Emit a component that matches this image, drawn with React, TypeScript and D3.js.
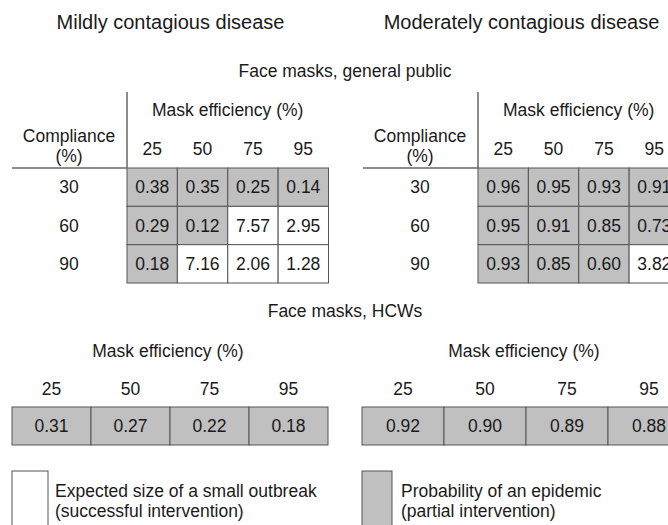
import * as React from 'react'
import * as d3 from 'd3'

// mask efficiency (%) columns, compliance (%) rows
const efficiency = ['25', '50', '75', '95'];
const compliance = ['30', '60', '90'];

// general public, mildly contagious
const mildValues = [
    [0.38, 0.35, 0.25, 0.14],
    [0.29, 0.12, 7.57, 2.95],
    [0.18, 7.16, 2.06, 1.28],
];
// 'p' = probability of an epidemic (grey), 'o' = expected size of small outbreak (white)
const mildKinds = [
    ['p', 'p', 'p', 'p'],
    ['p', 'p', 'o', 'o'],
    ['p', 'o', 'o', 'o'],
];

// general public, moderately contagious
const modValues = [
    [0.96, 0.95, 0.93, 0.91],
    [0.95, 0.91, 0.85, 0.73],
    [0.93, 0.85, 0.60, 3.82],
];
const modKinds = [
    ['p', 'p', 'p', 'p'],
    ['p', 'p', 'p', 'p'],
    ['p', 'p', 'p', 'o'],
];

// HCWs
const hcwMild = [0.31, 0.27, 0.22, 0.18];
const hcwMod = [0.92, 0.90, 0.89, 0.88];

const width = 668;
const height = 525;
const font = '"Liberation Sans", Arial, Helvetica, sans-serif';
const grey = '#c0c0c0';
const ink = '#1a1a1a';
const stroke = '#555';

const Matrix = props => {
    let {dx, values, kinds} = props;

    let x = d3.scaleBand().domain(efficiency).range([127 + dx, 328.5 + dx]);
    let y = d3.scaleBand().domain(compliance).range([168, 283]);
    let labelX = 69 + dx;
    let [x0, x1] = x.range();

    return (
        <g>
            <text x={(x0 + x1) / 2} y={116} textAnchor="middle">Mask efficiency (%)</text>
            <text x={labelX} y={142} textAnchor="middle">Compliance</text>
            <text x={labelX} y={162} textAnchor="middle">(%)</text>
            {efficiency.map(e => (
                <text key={e} x={x(e) + x.bandwidth() / 2} y={155} textAnchor="middle">{e}</text>
            ))}
            {compliance.map((c, i) => (
                <g key={c}>
                    <text x={labelX} y={y(c) + y.bandwidth() / 2 + 6} textAnchor="middle">{c}</text>
                    {efficiency.map((e, j) => (
                        <g key={e}>
                            <rect x={x(e)} y={y(c)} width={x.bandwidth()} height={y.bandwidth()}
                                fill={kinds[i][j] === 'p' ? grey : '#fff'} stroke={stroke} strokeWidth={1} />
                            <text x={x(e) + x.bandwidth() / 2} y={y(c) + y.bandwidth() / 2 + 6}
                                textAnchor="middle">{values[i][j].toFixed(2)}</text>
                        </g>
                    ))}
                </g>
            ))}
            <line x1={x0} x2={x0} y1={92} y2={168} stroke="#666" strokeWidth={1.5} />
            <line x1={12 + dx} x2={x0} y1={168} y2={168} stroke="#666" strokeWidth={1.5} />
        </g>
    );
}

const HcwRow = props => {
    let {range, values} = props;

    let x = d3.scaleBand().domain(efficiency).range(range);
    let [x0, x1] = range;

    return (
        <g>
            <text x={(x0 + x1) / 2 - 2} y={357} textAnchor="middle">Mask efficiency (%)</text>
            {efficiency.map((e, j) => (
                <g key={e}>
                    <text x={x(e) + x.bandwidth() / 2} y={395} textAnchor="middle">{e}</text>
                    <rect x={x(e)} y={407} width={x.bandwidth()} height={38}
                        fill={grey} stroke={stroke} strokeWidth={1} />
                    <text x={x(e) + x.bandwidth() / 2} y={432} textAnchor="middle">{values[j].toFixed(2)}</text>
                </g>
            ))}
        </g>
    );
}

const App = () => {
    return (
        <svg width={width} height={height} style={{position: 'absolute', left: 0, top: 0}}
            fontFamily={font} fontSize={17.5} fill={ink}>
            <rect width={width} height={height} fill="#fff" />

            <text x={170.5} y={29} fontSize={20} textAnchor="middle">Mildly contagious disease</text>
            <text x={521.5} y={29} fontSize={20} textAnchor="middle">Moderately contagious disease</text>

            <text x={345} y={77} textAnchor="middle">Face masks, general public</text>
            <Matrix dx={0} values={mildValues} kinds={mildKinds} />
            <Matrix dx={351} values={modValues} kinds={modKinds} />

            <text x={345} y={317} textAnchor="middle">Face masks, HCWs</text>
            <HcwRow range={[12, 328]} values={hcwMild} />
            <HcwRow range={[362, 690]} values={hcwMod} />

            <rect x={12} y={471} width={36} height={70} fill="#fff" stroke={stroke} strokeWidth={1} />
            <text x={55} y={497}>Expected size of a small outbreak</text>
            <text x={55} y={517}>(successful intervention)</text>

            <rect x={362} y={471} width={30} height={70} fill={grey} stroke={stroke} strokeWidth={1} />
            <text x={401} y={497}>Probability of an epidemic</text>
            <text x={401} y={517}>(partial intervention)</text>
        </svg>
    )
}

export default App;
